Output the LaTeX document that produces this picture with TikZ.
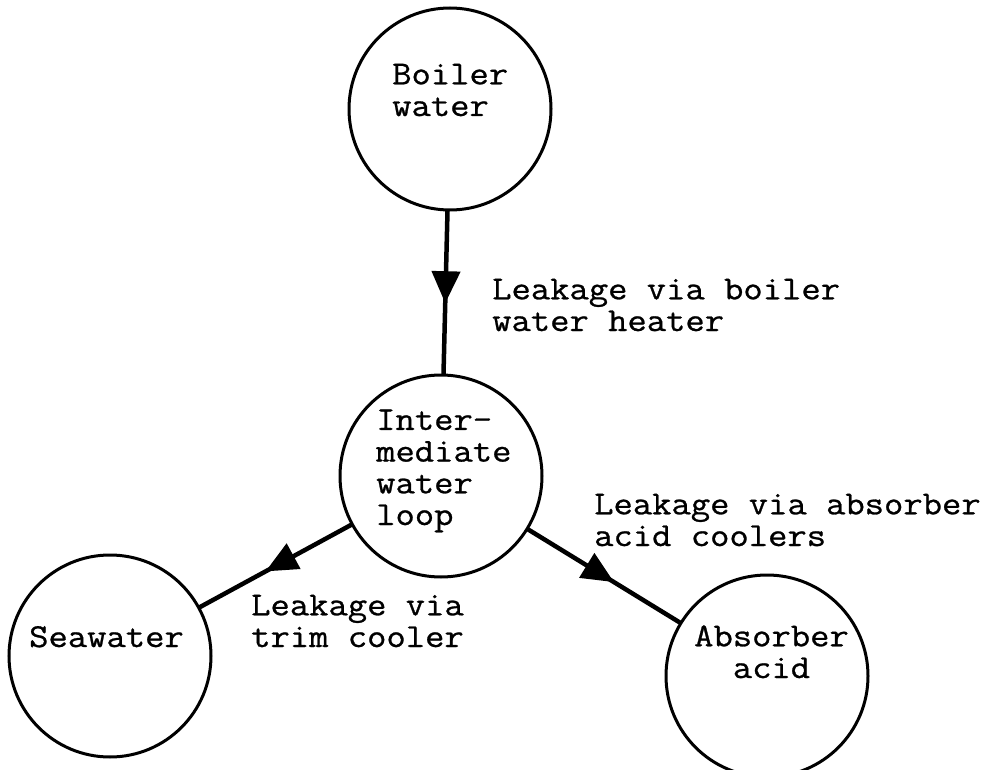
\documentclass[tikz,border=0pt]{standalone}
\usepackage{fontspec}
\newfontfamily\typew[FakeStretch=1.12,FakeBold=0.8]{Latin Modern Mono}
\usetikzlibrary{arrows.meta,decorations.markings}
\begin{document}
\begin{tikzpicture}[x=1pt,y=-1pt,
  state/.style={circle,draw,line width=3pt,minimum size=202pt,inner sep=0pt,outer sep=0pt},
  txt/.style={font=\typew\fontsize{33.5}{31.7}\selectfont,inner sep=0pt,anchor=base west,align=left},
  flow/.style={line width=4.5pt,postaction={decorate},
    decoration={markings,mark=at position 0.565 with {\arrow{Triangle[length=32pt,width=28pt]}}}}
]
\useasboundingbox (0,0) rectangle (999,770);
\node[state] (boiler) at (450,109) {};
\node[state] (inter) at (441,476) {};
\node[state] (sea) at (110,656) {};
\node[state] (abs) at (767,676) {};

% anchors are at the baseline of the last line
\node[txt] (boilertxt) at (392,116) {Boiler\\water};
\node[txt] (intertxt) at (376,525) {Inter-\\mediate\\water\\loop};
\node[txt] (seatxt) at (29,647) {Seawater};
\node[txt,align=center] (abstxt) at (694,678) {Absorber\\acid};
\node[txt] (lab1) at (492,331) {Leakage via boiler\\water heater};
\node[txt] (lab2) at (594,546) {Leakage via absorber\\acid coolers};
\node[txt] (lab3) at (251,647) {Leakage via\\trim cooler};

\draw[flow] (boiler) -- (inter);
\draw[flow] (inter) -- (sea);
\draw[flow] (inter) -- (abs);
\end{tikzpicture}
\end{document}
